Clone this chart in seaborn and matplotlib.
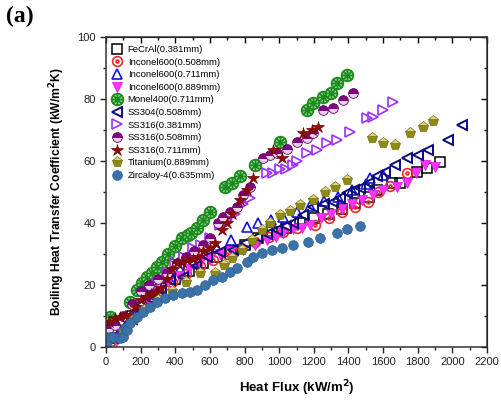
import numpy as np
import pandas as pd
import seaborn as sns
import matplotlib.pyplot as plt
from matplotlib.path import Path

# ---- data ----
fecral_x = [40, 90, 150, 200, 260, 320, 400, 480, 560, 640, 720, 800, 880, 960, 1040, 1120, 1200, 1280, 1360, 1440, 1520, 1564, 1650, 1696, 1794, 1852, 1927]
fecral_y = [3, 5, 10, 13, 16, 19, 22, 24.5, 27, 29, 31, 33, 35, 37, 38.5, 40, 41.5, 43, 44.5, 46.5, 48.5, 50.6, 52.9, 53, 56.5, 57.7, 59.7]

inc508_x = [30, 80, 130, 180, 240, 300, 380, 460, 540, 620, 700, 780, 860, 940, 1020, 1100, 1206, 1290, 1362, 1440, 1512, 1570, 1640, 1736]
inc508_y = [2, 4, 8, 12, 15, 18, 21, 23.5, 26, 28, 30, 32, 34, 35.5, 37, 38.5, 39.4, 41.5, 43.5, 45, 46.8, 50, 52, 56]

inc711_x = [30, 80, 130, 180, 240, 300, 360, 430, 500, 570, 640, 720, 813, 880, 950, 1020, 1100, 1180, 1260, 1340, 1420, 1500, 1523, 1598]
inc711_y = [3, 5, 9, 13, 17, 20, 23, 25, 27.5, 30, 32, 34.5, 38.7, 40, 41, 42, 43.5, 45.5, 47, 48.5, 50.5, 52.5, 54.5, 55.5]

inc889_x = [60, 100, 140, 190, 240, 300, 360, 420, 480, 540, 600, 660, 720, 790, 860, 927, 980, 1021, 1080, 1130, 1177, 1240, 1300, 1360, 1420, 1480, 1540, 1600, 1679, 1740, 1790, 1840, 1898]
inc889_y = [2, 4, 8, 12, 15, 18, 21, 23, 25, 27, 28.5, 30, 31, 31.3, 33, 34.5, 35.5, 36.8, 38, 38.5, 39.5, 41.5, 43, 44.5, 46, 47.5, 49, 50.6, 51.6, 53, 56, 58.7, 58]

monel_x = [25, 138, 178, 208, 236, 265, 294, 323, 358, 400, 438, 473, 490, 525, 560, 600, 687, 730, 773, 860, 1004, 1160, 1195, 1252, 1300, 1333, 1390]
monel_y = [9.7, 14.5, 18.4, 20.6, 22.6, 24, 25.8, 27.4, 30, 32.5, 35, 36, 36.7, 38.4, 41, 43.5, 51.6, 53, 55, 58.7, 66, 76.5, 78.7, 80.6, 82, 85, 87.7]

ss304_x = [40, 90, 150, 200, 265, 320, 369, 444, 520, 583, 658, 733, 800, 871, 930, 987, 1040, 1079, 1137, 1195, 1260, 1310, 1350, 1390, 1430, 1465, 1520, 1564, 1610, 1667, 1736, 1800, 1858, 1975, 2054]
ss304_y = [3, 6, 9, 12, 15, 18.5, 21.6, 22.6, 26, 29, 30.5, 31.3, 33.5, 35.5, 36.5, 37.7, 39, 40, 42.6, 45, 46, 46.8, 48, 49.6, 50.5, 51.3, 53, 55, 56.5, 58.7, 61, 62, 63.5, 66.8, 71.6]

ss316a_x = [100, 150, 200, 250, 300, 350, 400, 450, 500, 550, 600, 658, 698, 744, 790, 830, 929, 965, 1004, 1040, 1079, 1101, 1160, 1218, 1275, 1333, 1408, 1506, 1541, 1598, 1656]
ss316a_y = [3, 8, 14, 18, 21, 24, 27, 29, 32, 33, 35, 39.4, 41, 43, 46, 48, 56, 56, 57.5, 57.5, 58.7, 60, 62.5, 63.5, 65.8, 66.8, 69.4, 74, 74.3, 76.5, 79]

ss316b_x = [20, 50, 100, 150, 200, 250, 300, 350, 410, 460, 510, 560, 600, 646, 675, 715, 756, 790, 831, 906, 946, 985, 1044, 1101, 1159, 1195, 1252, 1311, 1369, 1427]
ss316b_y = [6, 7, 10, 14, 18, 20, 22, 24, 27, 29, 31, 33, 35, 40, 42, 43.5, 45, 49, 51.6, 61, 62, 62.5, 64, 66, 67.4, 69, 76.5, 77, 79.7, 82]

ss316c_x = [20, 50, 80, 110, 140, 170, 200, 230, 260, 290, 320, 350, 380, 410, 440, 470, 500, 530, 560, 600, 629, 669, 700, 727, 773, 813, 848, 965, 1015, 1137, 1190, 1223]
ss316c_y = [8, 9.4, 9.7, 10, 10.3, 13, 15, 16, 17, 17.7, 19, 22, 25, 27, 27.5, 28, 28.5, 29, 31, 32, 33.5, 37.7, 40, 43, 47.4, 50.6, 54.5, 63.5, 61, 69, 70, 71]

ti_x = [40, 100, 160, 220, 300, 380, 460, 542, 629, 680, 727, 785, 842, 898, 946, 1004, 1062, 1120, 1195, 1264, 1321, 1390, 1535, 1600, 1667, 1754, 1829, 1887]
ti_y = [3, 5, 9, 12, 15, 18, 21, 24, 24, 26.5, 28.7, 31.3, 34.5, 37.7, 40, 42.6, 44, 45.8, 47.4, 50, 51.6, 54, 67.5, 65.8, 65, 69, 71, 73]

zr_x = [6, 23, 40, 81, 98, 110, 121, 138, 178, 213, 254, 294, 340, 387, 438, 485, 525, 571, 617, 669, 715, 756, 813, 848, 900, 958, 1015, 1079, 1166, 1235, 1333, 1390, 1465]
zr_y = [1.6, 3.2, 3.2, 2.9, 3.2, 6.1, 5.5, 7.7, 9.7, 11.3, 12.9, 14.5, 15.8, 16.8, 17.4, 17.7, 18.4, 20, 21.6, 22.6, 24.2, 25.5, 27.4, 29, 30.3, 31.3, 31.9, 32.9, 33.9, 35.2, 36.8, 38, 39]

labels = ['FeCrAl(0.381mm)', 'Inconel600(0.508mm)', 'Inconel600(0.711mm)', 'Inconel600(0.889mm)',
          'Monel400(0.711mm)', 'SS304(0.508mm)', 'SS316(0.381mm)', 'SS316(0.508mm)',
          'SS316(0.711mm)', 'Titanium(0.889mm)', 'Zircaloy-4(0.635mm)']
series = [(fecral_x, fecral_y), (inc508_x, inc508_y), (inc711_x, inc711_y), (inc889_x, inc889_y),
          (monel_x, monel_y), (ss304_x, ss304_y), (ss316a_x, ss316a_y), (ss316b_x, ss316b_y),
          (ss316c_x, ss316c_y), (ti_x, ti_y), (zr_x, zr_y)]

# ---- custom markers ----
circ = Path.unit_circle()
dot = Path(circ.vertices * 0.3, circ.codes)
odot = Path.make_compound_path(circ, dot)
cross = Path([(-0.7, -0.7), (0.7, 0.7), (-0.7, 0.7), (0.7, -0.7), (-1, 0), (1, 0), (0, -1), (0, 1)],
             [Path.MOVETO, Path.LINETO] * 4)
xcirc = Path.make_compound_path(circ, cross)

styles = [
    dict(marker='s', color='black', mfc='none', mec='black', mew=1.1, ms=6.5),
    dict(marker=odot, color='#e62a2a', mfc='none', mec='#e62a2a', mew=1.2),
    dict(marker='^', color='#1414d2', mfc='none', mec='#1414d2', mew=1.2),
    dict(marker='v', color='#ff33ff', mfc='#ff33ff', mec='#e020e0', mew=0.6),
    dict(marker=xcirc, color='#2a9a2a', mfc='#8fd68f', mec='#1f8a1f', mew=1.2, ms=8.5),
    dict(marker='<', color='#0b0b80', mfc='none', mec='#0b0b80', mew=1.4),
    dict(marker='>', color='#9b30ff', mfc='none', mec='#9b30ff', mew=1.2),
    dict(marker='o', color='#800080', mfc='#800080', mec='#6a006a', mew=0.6, fillstyle='top', markerfacecoloralt='#e8d0e8'),
    dict(marker='*', color='#8b0a0a', mfc='#8b0a0a', mec='#7a0000', mew=0.5, ms=9),
    dict(marker='p', color='#8f8a14', mfc='#8f8a14', mec='#777210', mew=0.5, fillstyle='bottom', markerfacecoloralt='#d9d48a', ms=8),
    dict(marker='o', color='#3b72a8', mfc='#3b72a8', mec='#2c5f92', mew=0.5),
]

plt.rcParams['font.family'] = ['Liberation Sans', 'DejaVu Sans']

fig = plt.figure(figsize=(5.01, 4.09), dpi=100)
ax = fig.add_axes([0.2116, 0.1516, 0.7605, 0.758])

for lab, (xs, ys), st in zip(labels, series, styles):
    df = pd.DataFrame({'x': xs, 'y': ys})
    kw = dict(st)
    kw.setdefault('ms', 7)
    sns.lineplot(data=df, x='x', y='y', ax=ax, label=lab, linestyle='', sort=False,
                 estimator=None, errorbar=None, **kw)

ax.set_xlim(0, 2200)
ax.set_ylim(0, 100)
ax.set_xticks(np.arange(0, 2201, 200))
ax.set_xticks(np.arange(0, 2201, 100), minor=True)
ax.set_yticks(np.arange(0, 101, 20))
ax.set_yticks(np.arange(0, 101, 10), minor=True)
ax.tick_params(which='major', direction='out', length=4, width=1, labelsize=8, colors='#222')
ax.tick_params(which='minor', direction='out', length=2.5, width=1, colors='#222')
for s in ax.spines.values():
    s.set_linewidth(1.1)
    s.set_color('#333')

top = ax.secondary_xaxis('top')
top.set_xticks(np.arange(0, 2201, 200))
top.set_xticks(np.arange(0, 2201, 100), minor=True)
top.tick_params(which='major', direction='in', length=4, width=1, labeltop=False)
top.tick_params(which='minor', direction='in', length=2.5, width=1)
right = ax.secondary_yaxis('right')
right.set_yticks(np.arange(0, 101, 20))
right.set_yticks(np.arange(0, 101, 10), minor=True)
right.tick_params(which='major', direction='in', length=4, width=1, labelright=False)
right.tick_params(which='minor', direction='in', length=2.5, width=1)

ax.set_xlabel('Heat Flux (kW/m$^\\mathbf{2}$)', fontsize=9.5, fontweight='bold', labelpad=8)
ax.set_ylabel('Boiling Heat Transfer Coefficient (kW/m$^\\mathbf{2}$K)', fontsize=8.7, fontweight='bold', labelpad=7)

leg = ax.legend(loc='upper left', frameon=False, fontsize=6.8, handletextpad=0.6,
                labelspacing=0.38, borderaxespad=0.3, handlelength=1.0,
                bbox_to_anchor=(0.0, 0.995))

fig.text(0.012, 0.985, '(a)', fontsize=17, fontweight='bold', va='top', ha='left',
         family=['Liberation Serif', 'DejaVu Serif'])

fig.savefig('out.png', dpi=100)
